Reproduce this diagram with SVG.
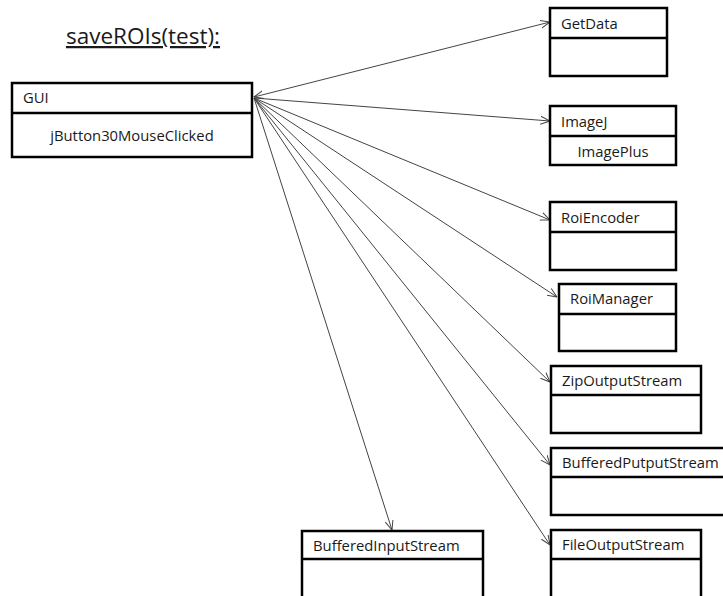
<svg xmlns="http://www.w3.org/2000/svg" width="723" height="596" viewBox="0 0 723 596">
  <defs>
    <style>
      .box { fill: #fff; stroke: #000; stroke-width: 2.5; }
      .div { stroke: #000; stroke-width: 2.5; }
      .lbl { font-family: "Open Sans", "Liberation Sans", sans-serif; font-size: 14.8px; fill: #1a1a1a; }
      .title { font-family: "Open Sans", "Liberation Sans", sans-serif; font-size: 22.5px; fill: #1a1a1a; text-decoration: underline; }
      .conn { stroke: #444; stroke-width: 1; fill: none; marker-end: url(#open); }
    </style>
    <marker id="open" viewBox="0 0 10 10" refX="9.5" refY="5" markerWidth="10" markerHeight="10" markerUnits="userSpaceOnUse" orient="auto">
      <path d="M0,1 L9.5,5 L0,9" fill="none" stroke="#444" stroke-width="1"/>
    </marker>
    <marker id="openStart" viewBox="0 0 10 10" refX="9.5" refY="5" markerWidth="10" markerHeight="10" markerUnits="userSpaceOnUse" orient="auto-start-reverse">
      <path d="M0,1 L9.5,5 L0,9" fill="none" stroke="#444" stroke-width="1"/>
    </marker>
  </defs>

  <text class="title" x="143" y="44" text-anchor="middle">saveROIs(test):</text>

  <g id="connectors">
    <line class="conn" x1="254" y1="97" x2="550" y2="22" marker-start="url(#openStart)"/>
    <line class="conn" x1="254" y1="98" x2="550" y2="121"/>
    <line class="conn" x1="254" y1="98" x2="550" y2="220"/>
    <line class="conn" x1="254" y1="98" x2="557" y2="297"/>
    <line class="conn" x1="254" y1="98" x2="550" y2="382"/>
    <line class="conn" x1="254" y1="98" x2="550" y2="465"/>
    <line class="conn" x1="254" y1="98" x2="550" y2="545"/>
    <line class="conn" x1="254" y1="98" x2="392" y2="530"/>
  </g>

  <g id="gui">
    <rect class="box" x="12" y="83" width="240" height="74"/>
    <line class="div" x1="12" y1="113" x2="252" y2="113"/>
    <text class="lbl" x="23" y="103">GUI</text>
    <text class="lbl" x="132" y="141" text-anchor="middle">jButton30MouseClicked</text>
  </g>

  <g id="getdata">
    <rect class="box" x="550" y="8" width="117" height="68"/>
    <line class="div" x1="550" y1="38" x2="667" y2="38"/>
    <text class="lbl" x="561" y="29">GetData</text>
  </g>

  <g id="imagej">
    <rect class="box" x="550" y="106" width="126" height="59"/>
    <line class="div" x1="550" y1="136" x2="676" y2="136"/>
    <text class="lbl" x="561" y="127">ImageJ</text>
    <text class="lbl" x="613" y="157" text-anchor="middle">ImagePlus</text>
  </g>

  <g id="roiencoder">
    <rect class="box" x="550" y="202" width="126" height="68"/>
    <line class="div" x1="550" y1="232" x2="676" y2="232"/>
    <text class="lbl" x="561" y="223">RoiEncoder</text>
  </g>

  <g id="roimanager">
    <rect class="box" x="559" y="284" width="117" height="67"/>
    <line class="div" x1="559" y1="314" x2="676" y2="314"/>
    <text class="lbl" x="570" y="304">RoiManager</text>
  </g>

  <g id="zipoutputstream">
    <rect class="box" x="551" y="366" width="150" height="67"/>
    <line class="div" x1="551" y1="395" x2="701" y2="395"/>
    <text class="lbl" x="562" y="386">ZipOutputStream</text>
  </g>

  <g id="bufferedputputstream">
    <rect class="box" x="551" y="448" width="176" height="67"/>
    <line class="div" x1="551" y1="477" x2="727" y2="477"/>
    <text class="lbl" x="562" y="468">BufferedPutputStream</text>
  </g>

  <g id="fileoutputstream">
    <rect class="box" x="551" y="530" width="150" height="80"/>
    <line class="div" x1="551" y1="559" x2="701" y2="559"/>
    <text class="lbl" x="562" y="550">FileOutputStream</text>
  </g>

  <g id="bufferedinputstream">
    <rect class="box" x="302" y="531" width="181" height="80"/>
    <line class="div" x1="302" y1="559" x2="483" y2="559"/>
    <text class="lbl" x="313" y="551">BufferedInputStream</text>
  </g>
</svg>
